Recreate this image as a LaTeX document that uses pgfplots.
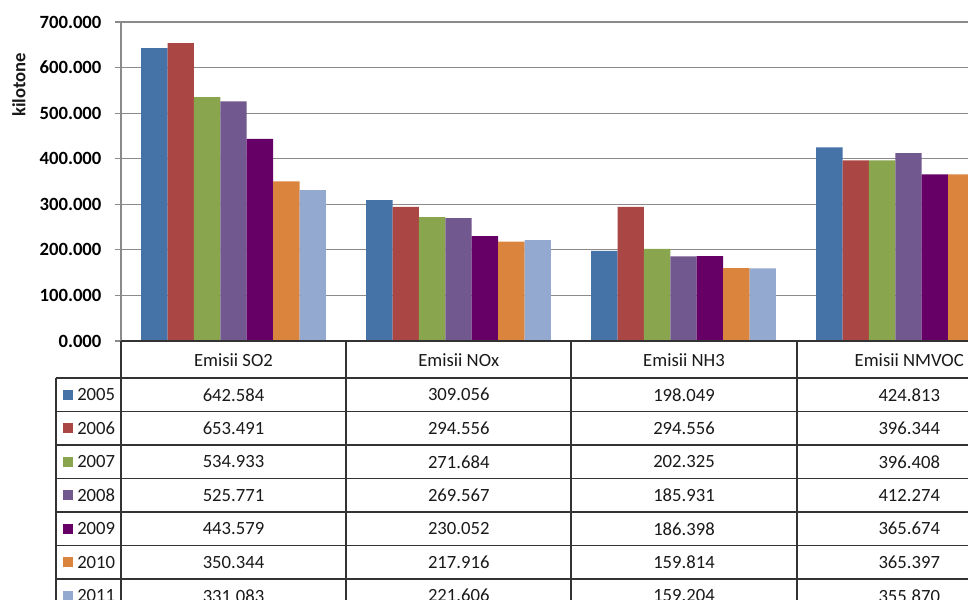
\documentclass[border=0pt]{standalone}
\usepackage{pgfplots}
\pgfplotsset{compat=1.18}
\usepackage{pgfplotstable}
\usepackage{fontspec}
\setmainfont{Carlito}

\definecolor{c2005}{HTML}{4572A7}
\definecolor{c2006}{HTML}{AA4643}
\definecolor{c2007}{HTML}{89A54E}
\definecolor{c2008}{HTML}{71588F}
\definecolor{c2009}{HTML}{660066}
\definecolor{c2010}{HTML}{DB843D}
\definecolor{c2011}{HTML}{93A9CF}
\definecolor{gridgray}{HTML}{8A8A8A}
\definecolor{tblline}{HTML}{333333}

% emissions in kilotonnes, one row per pollutant, one column per year
\pgfplotstableread{
cat y2005 y2006 y2007 y2008 y2009 y2010 y2011
{Emisii SO2} 642.584 653.491 534.933 525.771 443.579 350.344 331.083
{Emisii NOx} 309.056 294.556 271.684 269.567 230.052 217.916 221.606
{Emisii NH3} 198.049 294.556 202.325 185.931 186.398 159.814 159.204
{Emisii NMVOC} 424.813 396.344 396.408 412.274 365.674 365.397 355.870
}\emis

\newcommand{\txt}{\fontsize{14}{17}\selectfont}

\begin{document}
\begin{tikzpicture}
\useasboundingbox (0,0) rectangle (726pt,-450pt);
\clip (0,0) rectangle (726pt,-450pt);

\begin{axis}[
  scale only axis,
  width=635.25pt, height=239.25pt,
  at={(90.75pt,-255.75pt)}, anchor=south west,
  xmin=-0.5, xmax=3.2644, ymin=0, ymax=700,
  enlargelimits=false,
  ybar=0pt, bar width=19.8pt,
  axis x line=none, axis y line*=left,
  axis line style={-},
  y axis line style={draw=gridgray, line width=0.8pt},
  ytick={0,100,...,700},
  tick align=outside, major tick length=4.5pt,
  tick style={draw=gridgray, line width=0.8pt},
  ymajorgrids,
  grid style={draw=gridgray, line width=0.8pt},
  yticklabel style={font=\txt\bfseries, anchor=east, inner sep=0pt, xshift=-10pt,
    /pgf/number format/.cd, fixed, fixed zerofill, precision=3, 1000 sep={},
    assume math mode=true},
  every axis plot/.append style={draw=none},
]
\foreach \yr in {2005,2006,2007,2008,2009,2010,2011} {
  \edef\tmp{\noexpand\addplot[fill=c\yr] table[x expr=\noexpand\coordindex, y=y\yr] {\noexpand\emis};}
  \tmp
}
\end{axis}

\begin{scope}[x=0.75pt, y=-0.75pt, every node/.style={font=\txt, text=black!90}]
  \node[rotate=90, font=\txt\bfseries] at (19,85) {kilotone};
  % data table grid
  \draw[tblline, line width=1.2pt] (121,341) -- (968,341);
  \foreach \yy in {378,411.5,445,478.5,512,545.5,579,612.5}
    \draw[tblline, line width=1.1pt] (56,\yy) -- (968,\yy);
  \draw[tblline, line width=1.1pt] (56,378) -- (56,620);
  \foreach \xx in {121,346,571,797}
    \draw[tblline, line width=1.1pt] (\xx,341) -- (\xx,620);
  % column headers
  \foreach \c in {0,1,2,3} {
    \pgfplotstablegetelem{\c}{cat}\of\emis
    \node at (233.5+225.25*\c, 360) {\pgfplotsretval};
  }
  % rows with legend keys and values
  \foreach \yr [count=\r from 0] in {2005,2006,2007,2008,2009,2010,2011} {
    \pgfmathsetmacro\yc{378+33.5*(\r+0.5)}
    \fill[c\yr] (63,\yc-5) rectangle (73,\yc+5);
    \node[anchor=west, inner sep=0pt] at (77,\yc) {\yr};
    \foreach \c in {0,1,2,3} {
      \pgfplotstablegetelem{\c}{y\yr}\of\emis
      \node at (233.5+225.25*\c, \yc) {\pgfplotsretval};
    }
  }
\end{scope}
\end{tikzpicture}
\end{document}
